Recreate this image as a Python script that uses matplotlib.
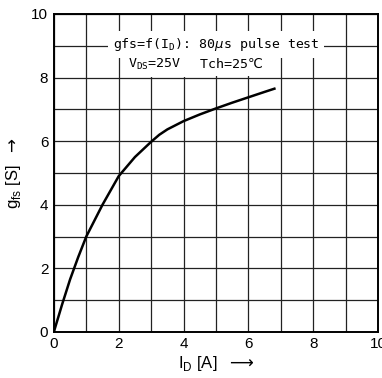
import numpy as np
import matplotlib
matplotlib.use("Agg")
import matplotlib.pyplot as plt

# drain current I_D [A] and forward transconductance g_fs [S]
i_d = [0, 0.25, 0.5, 0.75, 1.0, 1.25, 1.5, 2.0, 2.5, 3.0, 3.25, 3.5, 4.0, 4.5, 5.0, 5.5, 6.0, 6.5, 6.8]
g_fs = [0, 0.85, 1.65, 2.35, 3.0, 3.5, 4.0, 4.9, 5.5, 5.98, 6.2, 6.37, 6.63, 6.84, 7.03, 7.21, 7.38, 7.55, 7.65]

x_ticks = [0, 2, 4, 6, 8, 10]
y_ticks = [0, 2, 4, 6, 8, 10]

plt.rcParams['font.family'] = ['Liberation Sans', 'DejaVu Sans']

fig = plt.figure(figsize=(3.82, 3.78), dpi=100)
ax = fig.add_axes([0.141, 0.122, 0.849, 0.841])

ax.set_xlim(0, 10)
ax.set_ylim(0, 10)
ax.set_xticks(np.arange(0, 11, 1), minor=True)
ax.set_yticks(np.arange(0, 11, 1), minor=True)
ax.set_xticks(x_ticks, [str(t) for t in x_ticks], fontsize=11)
ax.set_yticks(y_ticks, [str(t) for t in y_ticks], fontsize=11)
ax.tick_params(which="both", length=0, pad=4)
ax.grid(which="both", color="#222222", lw=0.9)
ax.set_axisbelow(True)
for s in ax.spines.values():
    s.set_linewidth(1.4)

ax.plot(i_d, g_fs, color="black", lw=1.8, zorder=3)

mono = ["DejaVu Sans Mono", "DejaVu Sans"]
box = dict(facecolor="white", edgecolor="none", pad=3.5)
ax.text(5.0, 9.05, r"gfs=f(I$_\mathregular{D}$): 80$\mu$s pulse test",
        ha="center", va="center", fontsize=9.5, family=mono, bbox=box, zorder=4)
ax.text(3.1, 8.4, r"V$_\mathregular{DS}$=25V ",
        ha="center", va="center", fontsize=9.5, family=mono, bbox=box, zorder=4)
ax.text(5.35, 8.4, " Tch=25℃",
        ha="center", va="center", fontsize=9.5, family=mono, bbox=box, zorder=4)

ax.set_xlabel(r"I$_\mathregular{D}$ [A]  $\longrightarrow$", fontsize=12, labelpad=2)
ax.set_ylabel(r"g$_\mathregular{fs}$ [S]  $\rightarrow$", fontsize=12, labelpad=6)

fig.savefig("out.png", dpi=100)
